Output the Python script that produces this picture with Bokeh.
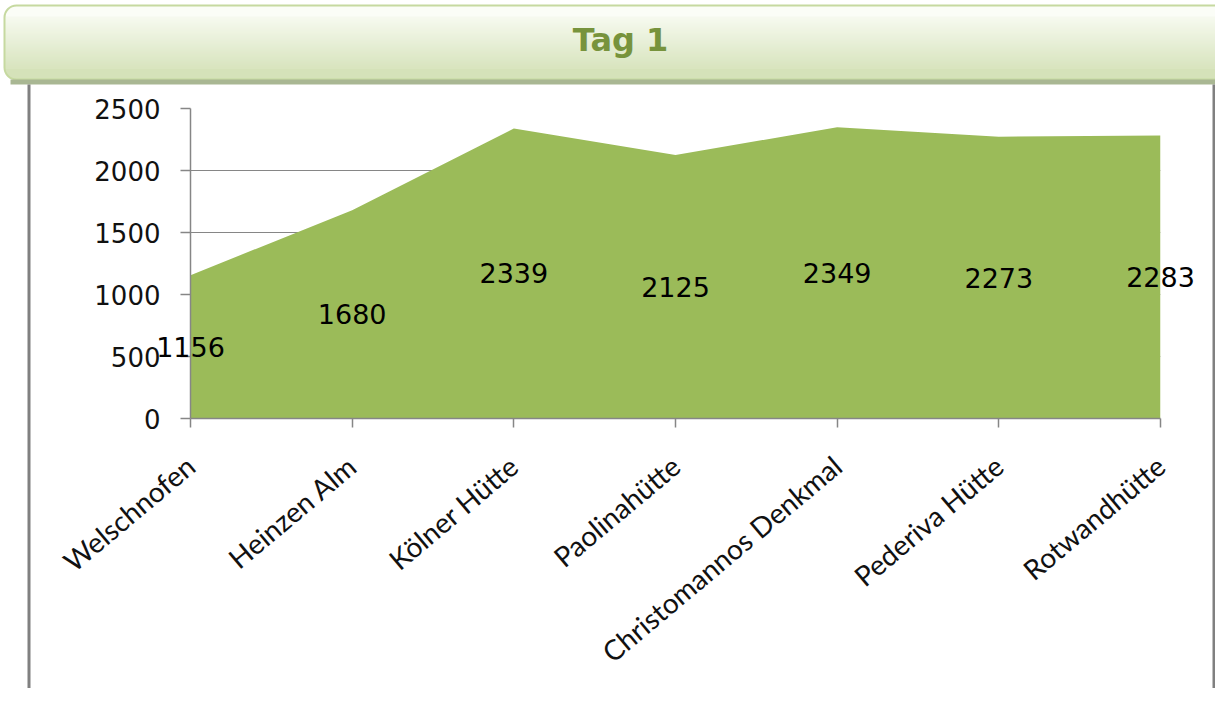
from math import radians
from bokeh.plotting import figure
from bokeh.models import Range1d, FixedTicker
from bokeh.core.properties import value
from bokeh.embed import file_html
from bokeh.resources import INLINE

# ---- data ----
title_text = "Tag 1"
categories = ["Welschnofen", "Heinzen Alm", "Kölner Hütte", "Paolinahütte",
              "Christomannos Denkmal", "Pederiva Hütte", "Rotwandhütte"]
elevations = [1156, 1680, 2339, 2125, 2349, 2273, 2283]
y_ticks = [0, 500, 1000, 1500, 2000, 2500]

positions = list(range(len(categories)))
label_y = [v / 2 for v in elevations]
label_txt = [str(v) for v in elevations]

# ---- layout (canvas pixels) ----
W, H = 1215, 688
FL, FR, FT, FB = 190, 1160, 108, 418   # frame edges on the canvas

p = figure(width=W, height=H, output_backend="svg", toolbar_location=None,
           x_range=Range1d(0, len(categories) - 1), y_range=Range1d(0, 2500),
           min_border_left=FL, min_border_right=W - FR, min_border_top=FT,
           min_border_bottom=H - FB)
p.outline_line_color = None
p.background_fill_color = "white"
p.border_fill_color = "white"
# pixel coordinate system for the decorations around the chart
p.extra_x_ranges = {"px": Range1d(FL, FR)}
p.extra_y_ranges = {"py": Range1d(FB, FT)}

# area
p.varea(x=positions, y1=0, y2=elevations, fill_color="#9bbb59")

# axes
p.yaxis.ticker = FixedTicker(ticks=y_ticks)
p.yaxis.axis_line_color = "#868686"
p.yaxis.axis_line_width = 1.5
p.yaxis.major_tick_line_color = "#868686"
p.yaxis.major_tick_line_width = 1.5
p.yaxis.major_tick_out = 10
p.yaxis.major_tick_in = 0
p.yaxis.minor_tick_line_color = None
p.yaxis.major_label_standoff = 20
p.yaxis.major_label_text_font = "DejaVu Sans"
p.yaxis.major_label_text_font_size = "26px"
p.yaxis.major_label_text_color = "#111111"

p.xaxis.ticker = FixedTicker(ticks=positions)
p.xaxis.major_label_overrides = {i: c for i, c in zip(positions, categories)}
p.xaxis.major_label_orientation = radians(40)
p.xaxis.axis_line_color = "#868686"
p.xaxis.axis_line_width = 1.5
p.xaxis.major_tick_line_color = "#868686"
p.xaxis.major_tick_line_width = 1.5
p.xaxis.major_tick_out = 9
p.xaxis.major_tick_in = 0
p.xaxis.minor_tick_line_color = None
p.xaxis.major_label_standoff = 34
p.xaxis.major_label_text_font = "Lato"
p.xaxis.major_label_text_font_size = "28px"
p.xaxis.major_label_text_color = "#111111"

p.xgrid.grid_line_color = None
p.ygrid.ticker = FixedTicker(ticks=y_ticks)
p.ygrid.grid_line_color = "#868686"
p.ygrid.grid_line_width = 1.2

# data labels (overlay level so they are not clipped at the frame edge)
p.text(x=positions, y=label_y, text=label_txt, level="overlay",
       text_align="center", text_baseline="middle",
       text_font=value("DejaVu Sans"), text_font_size="27px", text_color="#000000")

# ---- header box with a vertical gradient ----
top_col = (251, 253, 247)
bot_col = (213, 226, 185)
def hexc(c):
    return "#%02x%02x%02x" % c

HT, HB = 5, 79   # header top / bottom
deco = dict(x_range_name="px", y_range_name="py", level="overlay")
p.quad(left=[4], right=[1260], top=[HT], bottom=[42], fill_color=hexc(top_col),
       line_color=None, border_radius=12, **deco)
p.quad(left=[4], right=[1260], top=[40], bottom=[HB], fill_color=hexc(bot_col),
       line_color=None, border_radius=12, **deco)
n = 26
y0, y1 = HT + 11, HB - 11
s_top, s_bot, s_col = [], [], []
for i in range(n):
    t = (i + 0.5) / n
    c = tuple(int(round(top_col[k] + (bot_col[k] - top_col[k]) * (0.12 + 0.8 * t))) for k in range(3))
    s_top.append(y0 + (y1 - y0) * i / n)
    s_bot.append(y0 + (y1 - y0) * (i + 1) / n + 0.6)
    s_col.append(hexc(c))
p.quad(left=4, right=1260, top=s_top, bottom=s_bot, fill_color=s_col,
       line_color=None, **deco)
p.quad(left=[4], right=[1260], top=[HT], bottom=[HB], fill_color=None,
       line_color="#c6d9a0", line_width=2, border_radius=12, **deco)
# dotted shadow band under the header
p.quad(left=[10], right=[1260], top=[HB], bottom=[HB + 5], fill_color="#a9b793",
       line_color=None, **deco)
# chart-area border lines
p.quad(left=[27, 1212], right=[30, 1215], top=[HB + 5, HB + 5], bottom=[720, 720],
       fill_color="#808080", line_color=None, **deco)

p.text(x=[620], y=[39], text=[title_text], text_align="center",
       text_baseline="middle", text_font=value("DejaVu Sans"),
       text_font_style="bold", text_font_size="32px", text_color="#77933c", **deco)

open("out.html", "w").write(file_html(p, INLINE))
